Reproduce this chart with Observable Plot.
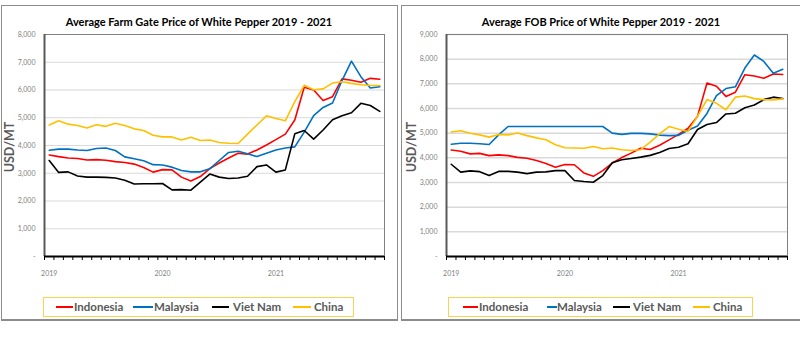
<!DOCTYPE html>
<html><head><meta charset="utf-8">
<script src="https://cdn.jsdelivr.net/npm/d3@7"></script>
<script src="https://cdn.jsdelivr.net/npm/@observablehq/plot@0.6"></script>
<style>
body{margin:0;background:#fff;}
#root{position:relative;width:800px;height:360px;overflow:hidden;background:#fff;font-family:Lato,"Open Sans",sans-serif;}
.panel{position:absolute;border:1px solid #8c8c8c;border-bottom-width:2px;box-sizing:border-box;}
.title{position:absolute;font-weight:bold;font-size:11px;color:#000;white-space:nowrap;transform:translate(-50%,-50%);line-height:1;}
.ylab{position:absolute;font-weight:bold;font-size:12.5px;color:#595959;transform:translate(-50%,-50%) rotate(-90deg);white-space:nowrap;line-height:1;}
.legend{position:absolute;border:1.5px solid #ffd24d;box-sizing:border-box;}
.sw{position:absolute;height:2px;}
.lt{position:absolute;font-weight:bold;font-size:11.5px;color:#595959;white-space:nowrap;transform:translateY(-50%);line-height:1;}
.plot{position:absolute;}
</style></head>
<body><div id="root"></div>
<script>
// ---- data ----
const years = ["2019", "2020", "2021"];
const monthNames = ["01","02","03","04","05","06","07","08","09","10","11","12"];
const months = years.flatMap(y => monthNames.map(m => `${y}-${m}`));
const countries = ["Indonesia", "Malaysia", "Viet Nam", "China"];
const colors = ["#ff0000", "#0070c0", "#000000", "#ffc000"];

// Average Farm Gate Price (USD/MT)
const farmIndonesia = [3660,3600,3550,3530,3480,3490,3470,3420,3390,3330,3210,3040,3130,3120,2860,2720,2880,3170,3370,3550,3720,3690,3840,4020,4210,4410,4920,6100,6000,5620,5760,6400,6350,6280,6420,6390];
const farmMalaysia  = [3830,3870,3870,3840,3820,3890,3910,3820,3590,3520,3450,3310,3300,3220,3100,3050,3050,3160,3460,3750,3790,3700,3600,3720,3840,3910,3950,4480,5080,5370,5530,6340,7040,6480,6070,6120];
const farmVietNam   = [3460,3030,3050,2900,2860,2860,2850,2830,2750,2610,2620,2620,2630,2400,2410,2390,2680,2970,2860,2810,2830,2890,3240,3300,3040,3120,4420,4540,4230,4560,4930,5070,5180,5520,5440,5230];
const farmChina     = [4740,4890,4770,4720,4630,4750,4690,4800,4720,4600,4540,4370,4310,4310,4200,4300,4180,4200,4110,4080,4070,4410,4740,5070,4970,4890,5580,6170,6010,6040,6250,6300,6240,6190,6160,6160];

// Average FOB Price (USD/MT)
const fobIndonesia = [4320,4270,4160,4180,4090,4120,4090,4020,3980,3890,3770,3620,3730,3720,3390,3250,3480,3790,4010,4190,4390,4340,4510,4730,4950,5200,5680,7030,6900,6490,6660,7370,7320,7230,7400,7380];
const fobMalaysia  = [4550,4590,4590,4570,4540,4930,5270,5270,5270,5270,5270,5270,5270,5270,5270,5270,5270,5000,4950,4990,4990,4970,4920,4900,4910,5120,5290,5800,6520,6810,6880,7640,8170,7910,7430,7590];
const fobVietNam   = [3740,3420,3470,3440,3280,3450,3450,3420,3360,3420,3430,3480,3480,3080,3040,3010,3280,3800,3920,3970,4030,4100,4220,4380,4430,4570,5150,5350,5430,5780,5810,6030,6140,6360,6460,6400];
const fobChina     = [5050,5100,5000,4930,4840,4950,4930,5010,4900,4810,4730,4530,4410,4400,4390,4460,4370,4400,4330,4300,4330,4640,4970,5270,5160,5070,5680,6360,6210,5950,6460,6510,6400,6360,6350,6390];

const farmTicks = [0,1000,2000,3000,4000,5000,6000,7000,8000];
const fobTicks  = [0,1000,2000,3000,4000,5000,6000,7000,8000,9000];

const titles = ["Average Farm Gate Price of White Pepper 2019 - 2021", "Average FOB Price of White Pepper 2019 - 2021"];
const yLabel = "USD/MT";

// ---- drawing ----
const root = document.getElementById("root");
function el(cls, css, text) {
  const d = document.createElement("div");
  d.className = cls;
  Object.assign(d.style, css);
  if (text != null) d.textContent = text;
  root.appendChild(d);
  return d;
}

function chart({series, ticks, left, width, marginLeft, marginRight, gridWidth}) {
  const rows = [];
  countries.forEach((c, k) => series[k].forEach((v, i) => rows.push({country: c, month: months[i], pos: months.indexOf(months[i]) + 0.5, value: v})));
  const yMax = ticks[ticks.length - 1];
  const n = months.length;
  const yearPos = years.map(y => months.indexOf(`${y}-01`) + 0.5);
  const svg = Plot.plot({
    width, height: 290, marginLeft, marginRight, marginTop: 34, marginBottom: 34,
    style: {fontFamily: "Lato, sans-serif", fontSize: "7px", background: "transparent", overflow: "visible"},
    x: {domain: [0, n]},
    y: {domain: [0, yMax]},
    color: {domain: countries, range: colors},
    marks: [
      Plot.ruleY(ticks.slice(1), {stroke: "#d9d9d9", strokeWidth: gridWidth}),
      Plot.ruleY([yMax], {stroke: "#808080", strokeWidth: 1}),
      Plot.ruleX([n], {stroke: "#808080", strokeWidth: 1}),
      Plot.axisY({ticks, tickSize: 0, tickPadding: 9, label: null, fill: "#7f7f7f", fontSize: 7,
                  tickFormat: d => d === 0 ? "-" : d3.format(",")(d)}),
      Plot.axisX({ticks: d3.range(0, n + 1), tickSize: 4, tickFormat: () => "", label: null, stroke: "#000"}),
      Plot.axisX({ticks: yearPos, tickSize: 0, tickPadding: 15, label: null, fill: "#7f7f7f", fontSize: 7,
                  tickFormat: d => years[yearPos.indexOf(d)]}),
      Plot.lineY(rows, {x: "pos", y: "value", stroke: "country", strokeWidth: 1.6}),
      Plot.ruleX([0], {stroke: "#595959", strokeWidth: 2}),
      Plot.ruleY([0], {stroke: "#000", strokeWidth: 2})
    ]
  });
  svg.classList.add("plot");
  svg.style.left = left + "px";
  svg.style.top = "0px";
  root.appendChild(svg);
}

function legend(box, items) {
  el("legend", {left: box[0] + "px", top: "297px", width: (box[1] - box[0]) + "px", height: "20px"});
  countries.forEach((c, k) => {
    const it = items[k];
    el("sw", {left: it[0] + "px", top: "306px", width: it[1] + "px", background: colors[k]});
    el("lt", {left: it[2] + "px", top: "307px"}, c);
  });
}

// panels
el("panel", {left: "1px", top: "5px", width: "397px", height: "316px"});
el("panel", {left: "401px", top: "5px", width: "402px", height: "316px"});

el("title", {left: "199px", top: "21px"}, titles[0]);
el("title", {left: "601px", top: "21px"}, titles[1]);

chart({series: [farmIndonesia, farmMalaysia, farmVietNam, farmChina], ticks: farmTicks, left: 0, width: 400, marginLeft: 44, marginRight: 16, gridWidth: 1});
chart({series: [fobIndonesia, fobMalaysia, fobVietNam, fobChina], ticks: fobTicks, left: 400, width: 400, marginLeft: 46, marginRight: 13, gridWidth: 1.5});

el("ylab", {left: "10px", top: "147px"}, yLabel);
el("ylab", {left: "412px", top: "147px"}, yLabel);

legend([43, 354], [[56,17,74],[133,20,154],[212,17,233],[293,18,314]]);
legend([448, 753], [[463,15,479],[547,10,557],[613,17,633],[693,17,713]]);
</script></body></html>
